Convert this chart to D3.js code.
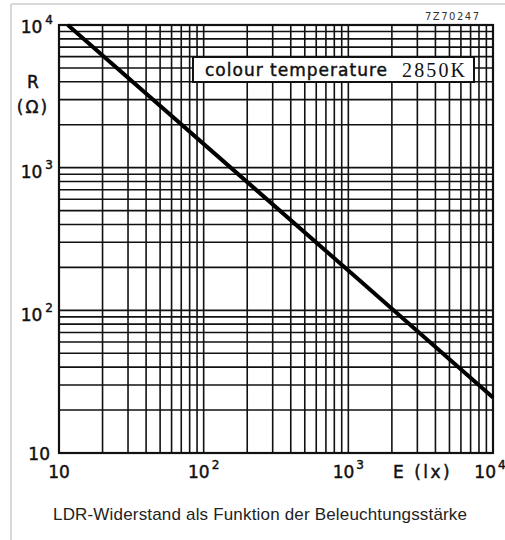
<!DOCTYPE html>
<meta charset="utf-8">
<style>
body { margin: 0; background: #fff; }
text { font-family: "DejaVu Sans", sans-serif; fill: #111; }
.lab { stroke: #111; stroke-width: 0.45px; }
.grid line { stroke: #111; stroke-width: 1.6px; }
</style>
<svg width="505" height="540"></svg>
<script src="https://d3js.org/d3.v7.min.js"></script>
<script>

// values
var gridValues = [];
[10, 100, 1000].forEach(function(d) {
  for (var k = 1; k < 10; k++) gridValues.push(d * k);
});
gridValues.push(10000);

var tickValues = [10, 100, 1000, 10000];
var tickExps = ["", "2", "3", "4"];

var curveE = [11.5, 1000, 10000];   // lx
var curveR = [10000, 190, 24.5];    // ohm

var svg = d3.select("svg");

var plotLeft = 59, plotRight = 493, plotTop = 25, plotBottom = 453;

var x = d3.scaleLog().domain([10, 10000]).range([plotLeft, plotRight]);
var y = d3.scaleLog().domain([10, 10000]).range([plotBottom, plotTop]);

// light frame of the picture
svg.append("line").attr("x1", 11).attr("x2", 505).attr("y1", 4).attr("y2", 4)
    .attr("stroke", "#ccc").attr("stroke-width", 1.5);
svg.append("line").attr("x1", 11).attr("x2", 11).attr("y1", 4).attr("y2", 540)
    .attr("stroke", "#ccc").attr("stroke-width", 1.5);

var grid = svg.append("g").attr("class", "grid");

grid.selectAll("line.v")
    .data(gridValues)
    .enter().append("line")
      .attr("class", "v")
      .attr("x1", function(d) { return x(d); })
      .attr("x2", function(d) { return x(d); })
      .attr("y1", plotTop)
      .attr("y2", plotBottom);

grid.selectAll("line.h")
    .data(gridValues)
    .enter().append("line")
      .attr("class", "h")
      .attr("y1", function(d) { return y(d); })
      .attr("y2", function(d) { return y(d); })
      .attr("x1", plotLeft)
      .attr("x2", plotRight);

svg.append("rect")
    .attr("x", plotLeft).attr("y", plotTop)
    .attr("width", plotRight - plotLeft).attr("height", plotBottom - plotTop)
    .attr("fill", "none").attr("stroke", "#111").attr("stroke-width", 2.2);

// the curve
var line = d3.line()
    .x(function(d, i) { return x(curveE[i]); })
    .y(function(d, i) { return y(curveR[i]); });

svg.append("path")
    .datum(curveE)
    .attr("d", line)
    .attr("fill", "none")
    .attr("stroke", "#000")
    .attr("stroke-width", 4);

// legend box
svg.append("rect")
    .attr("x", 193).attr("y", 57).attr("width", 281).attr("height", 25)
    .attr("fill", "#fff").attr("stroke", "#111").attr("stroke-width", 2);
svg.append("text")
    .attr("class", "lab")
    .attr("x", 205).attr("y", 76)
    .attr("font-size", 17)
    .attr("textLength", 182)
    .text("colour temperature");
svg.append("text")
    .attr("x", 402).attr("y", 77)
    .attr("font-size", 20)
    .style("font-family", "'Liberation Serif', serif")
    .attr("textLength", 63)
    .text("2850K");

// drawing number
svg.append("text")
    .attr("x", 425).attr("y", 20)
    .attr("font-size", 10)
    .attr("letter-spacing", 1.5)
    .style("fill", "#333")
    .text("7Z70247");

// y tick labels
var yOff = [7, 11, 10, 8];
var yLab = svg.append("g").selectAll("text")
    .data(tickValues)
    .enter().append("text")
      .attr("class", "lab")
      .attr("text-anchor", "end")
      .attr("x", function(d, i) { return i === 0 ? 50 : 53; })
      .attr("y", function(d, i) { return y(d) + yOff[i]; })
      .attr("font-size", 17);
yLab.append("tspan").text("10");
yLab.append("tspan")
    .attr("dx", 3)
    .attr("dy", -9)
    .attr("font-size", 12)
    .text(function(d, i) { return tickExps[i]; });

// x tick labels
var xLab = svg.append("g").selectAll("text")
    .data(tickValues)
    .enter().append("text")
      .attr("class", "lab")
      .attr("text-anchor", "middle")
      .attr("x", function(d, i) { return i === 3 ? x(d) - 3 : x(d); })
      .attr("y", 478)
      .attr("font-size", 17);
xLab.append("tspan").text("10");
xLab.append("tspan")
    .attr("dx", 2)
    .attr("dy", -9)
    .attr("font-size", 12)
    .text(function(d, i) { return tickExps[i]; });

// axis titles
svg.append("text")
    .attr("class", "lab")
    .attr("x", 33).attr("y", 88)
    .attr("text-anchor", "middle")
    .attr("font-size", 17)
    .text("R");
svg.append("text")
    .attr("class", "lab")
    .attr("x", 33).attr("y", 113)
    .attr("text-anchor", "middle")
    .attr("font-size", 17)
    .attr("letter-spacing", 2)
    .text("(Ω)");
svg.append("text")
    .attr("class", "lab")
    .attr("x", 393).attr("y", 478)
    .attr("font-size", 17)
    .attr("letter-spacing", 2.5)
    .text("E (lx)");

// caption
svg.append("text")
    .attr("x", 260).attr("y", 520)
    .attr("text-anchor", "middle")
    .attr("font-size", 17)
    .attr("textLength", 414)
    .style("font-family", "'Liberation Sans', Arial, sans-serif")
    .style("fill", "#222")
    .text("LDR-Widerstand als Funktion der Beleuchtungsstärke");

</script>
